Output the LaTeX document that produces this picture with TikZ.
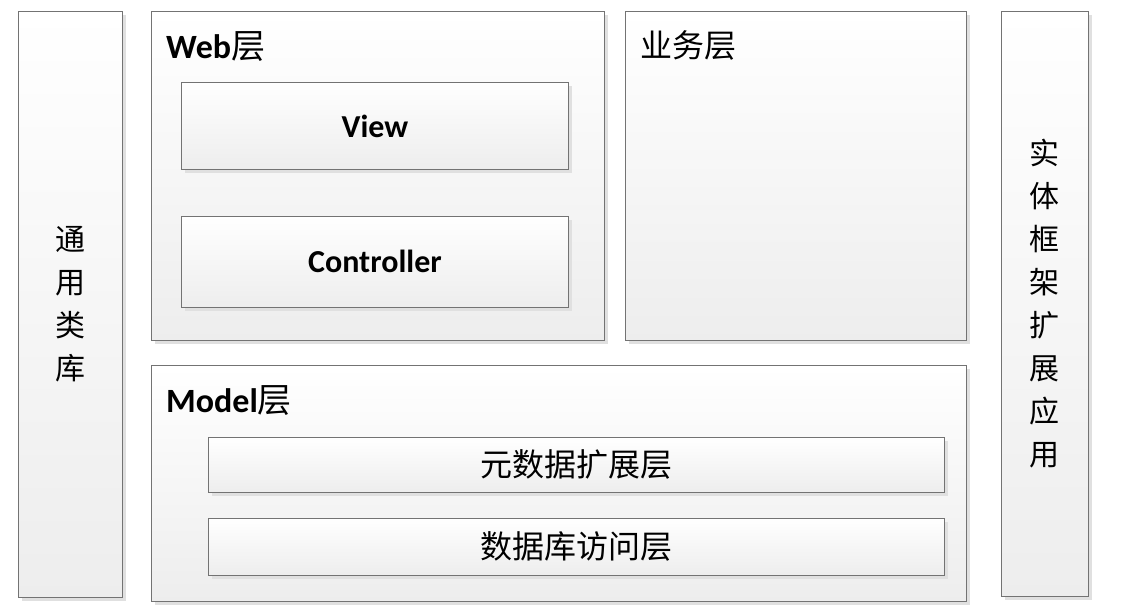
\documentclass[tikz,border=0pt]{standalone}
\usepackage{fontspec}
\setmainfont{Carlito}
\newfontfamily\cjk{Noto Sans CJK SC}
\usetikzlibrary{positioning, shadows}

\begin{document}
\begin{tikzpicture}[x=1pt, y=-1pt, node distance=10pt]
  \tikzstyle{every node}=[font=\fontsize{32}{38}\selectfont]
  \tikzstyle{layer}=[draw=black!55, line width=0.9pt, top color=white, bottom color=black!7, anchor=north west, inner sep=0pt,
                     drop shadow={shadow xshift=4pt, shadow yshift=-4pt, fill=black!12, opacity=1}]
  \tikzstyle{title}=[anchor=west, inner sep=0pt, font=\fontsize{34}{40}\selectfont\bfseries]
  \tikzstyle{column}=[align=center, inner sep=0pt, font=\fontsize{30}{43}\selectfont\cjk]
  \useasboundingbox (0,0) rectangle (1121,608);

  % left and right columns
  \node (common) [layer, minimum width=104pt, minimum height=586pt] at (18,11)   {};
  \node (entity) [layer, minimum width=87pt,  minimum height=585pt] at (1001,11) {};
  \node (commontext) [column] at (common.center) {通\\用\\类\\库};
  \node (entitytext) [column] at (entity.center) {实\\体\\框\\架\\扩\\展\\应\\用};

  % web layer
  \node (web)        [layer, minimum width=453pt, minimum height=329pt] at (151,11) {};
  \node (webtitle)   [title] at (166,47) {Web{\cjk\mdseries 层}};
  \node (view)       [layer, minimum width=387pt, minimum height=87pt] at (181,82) {\bfseries View};
  \node (controller) [layer, minimum width=387pt, minimum height=91pt, below=46pt of view] {\bfseries Controller};

  % business layer
  \node (business)      [layer, minimum width=341pt, minimum height=329pt] at (625,11) {};
  \node (businesstitle) [title, font=\fontsize{32}{38}\selectfont\cjk] at (640,45) {业务层};

  % model layer
  \node (model)      [layer, minimum width=815pt, minimum height=236pt] at (151,365) {};
  \node (modeltitle) [title] at (166,401) {Model{\cjk\mdseries 层}};
  \node (metadata)   [layer, minimum width=736pt, minimum height=55pt, font=\fontsize{32}{38}\selectfont\cjk] at (208,437) {元数据扩展层};
  \node (dbaccess)   [layer, minimum width=736pt, minimum height=57pt, font=\fontsize{32}{38}\selectfont\cjk, below=25pt of metadata] {数据库访问层};
\end{tikzpicture}
\end{document}
